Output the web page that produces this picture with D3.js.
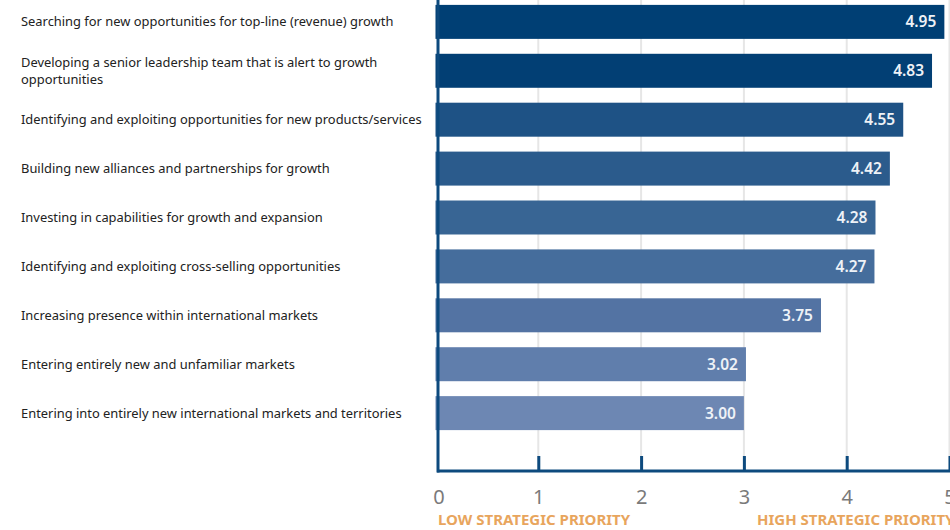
<!DOCTYPE html>
<html>
<head>
<meta charset="utf-8">
<script src="https://cdn.jsdelivr.net/npm/d3@7"></script>
<style>
  html, body { margin: 0; padding: 0; background: #fff; }
  svg { display: block; }
</style>
</head>
<body>
<svg id="chart" width="950" height="530"></svg>
<script>
// Strategic growth priorities, mean score on a 0–5 scale
const categories = [
  ["Searching for new opportunities for top-line (revenue) growth"],
  ["Developing a senior leadership team that is alert to growth", "opportunities"],
  ["Identifying and exploiting opportunities for new products/services"],
  ["Building new alliances and partnerships for growth"],
  ["Investing in capabilities for growth and expansion"],
  ["Identifying and exploiting cross-selling opportunities"],
  ["Increasing presence within international markets"],
  ["Entering entirely new and unfamiliar markets"],
  ["Entering into entirely new international markets and territories"]
];
const values = [4.95, 4.83, 4.55, 4.42, 4.28, 4.27, 3.75, 3.02, 3.00];
const barColors = ["#003f74", "#023f74", "#1e5285", "#2b5b8c", "#386594", "#456d9c", "#5373a3", "#607eac", "#6d87b3"];
const tickValues = [0, 1, 2, 3, 4, 5];
const scaleLabels = ["LOW STRATEGIC PRIORITY", "HIGH STRATEGIC PRIORITY"];

const svg = d3.select("#chart");
const font = "'Noto Sans', sans-serif";

const x = d3.scaleLinear().domain([0, 5]).range([435.5, 949.5]);
const y = d3.scaleBand()
  .domain(d3.range(categories.length))
  .range([0, 435])
  .paddingInner(0.305)
  .paddingOuter(0.1);
const axisY = 471;

// vertical gridlines
svg.append("g")
  .selectAll("line")
  .data(tickValues.slice(1))
  .join("line")
  .attr("x1", d => x(d)).attr("x2", d => x(d))
  .attr("y1", 0).attr("y2", axisY)
  .attr("stroke", "#e6e6e6")
  .attr("stroke-width", 2);

// bars
svg.append("g")
  .selectAll("rect")
  .data(values)
  .join("rect")
  .attr("x", x(0))
  .attr("y", (d, i) => y(i))
  .attr("width", d => x(d) - x(0))
  .attr("height", y.bandwidth())
  .attr("fill", (d, i) => barColors[i]);

// value labels inside bar ends
svg.append("g")
  .selectAll("text")
  .data(values)
  .join("text")
  .attr("x", d => x(d) - 8)
  .attr("y", (d, i) => y(i) + y.bandwidth() / 2)
  .attr("dy", "0.36em")
  .attr("text-anchor", "end")
  .attr("font-family", font)
  .attr("font-weight", 600)
  .attr("font-size", 15.5)
  .attr("fill", "#eef2f7")
  .text(d => d.toFixed(2));

// category labels
const lineH = 16.5;
svg.append("g")
  .selectAll("text")
  .data(categories)
  .join("text")
  .attr("x", 21)
  .attr("y", (d, i) => y(i) + y.bandwidth() / 2 - (d.length - 1) * lineH / 2)
  .attr("font-family", font)
  .attr("font-size", 12.9)
  .attr("fill", "#222")
  .each(function(d) {
    d3.select(this).selectAll("tspan")
      .data(d)
      .join("tspan")
      .attr("x", 21)
      .attr("dy", (t, j) => j === 0 ? "0.35em" : lineH)
      .text(t => t);
  });

// left axis line
svg.append("line")
  .attr("x1", 438).attr("x2", 438)
  .attr("y1", 0).attr("y2", axisY + 1.5)
  .attr("stroke", "#0d4a7e")
  .attr("stroke-width", 3);

// bottom axis with inward ticks
const xAxis = d3.axisBottom(x)
  .tickValues(tickValues)
  .tickSize(0)
  .tickPadding(0)
  .tickFormat(d3.format("d"));

const gx = svg.append("g").attr("transform", `translate(0,${axisY})`).call(xAxis);
gx.select(".domain").remove();
gx.selectAll(".tick text")
  .attr("y", 33)
  .attr("dy", 0)
  .attr("x", d => d === 0 ? 3 : 0)
  .attr("font-family", font)
  .attr("font-size", 20)
  .attr("fill", "#7a7a7a");
gx.selectAll(".tick")
  .filter(d => d > 0)
  .append("line")
  .attr("y1", 0).attr("y2", -15)
  .attr("stroke", "#0d4a7e")
  .attr("stroke-width", 3);

svg.append("line")
  .attr("x1", 437).attr("x2", 950)
  .attr("y1", axisY).attr("y2", axisY)
  .attr("stroke", "#0d4a7e")
  .attr("stroke-width", 3);

// priority scale captions
svg.append("text")
  .attr("x", 438).attr("y", 525)
  .attr("font-family", font).attr("font-weight", "bold")
  .attr("font-size", 15).attr("fill", "#e8a55d")
  .text(scaleLabels[0]);
svg.append("text")
  .attr("x", 757).attr("y", 525)
  .attr("font-family", font).attr("font-weight", "bold")
  .attr("font-size", 15).attr("fill", "#e8a55d")
  .text(scaleLabels[1]);
</script>
</body>
</html>
